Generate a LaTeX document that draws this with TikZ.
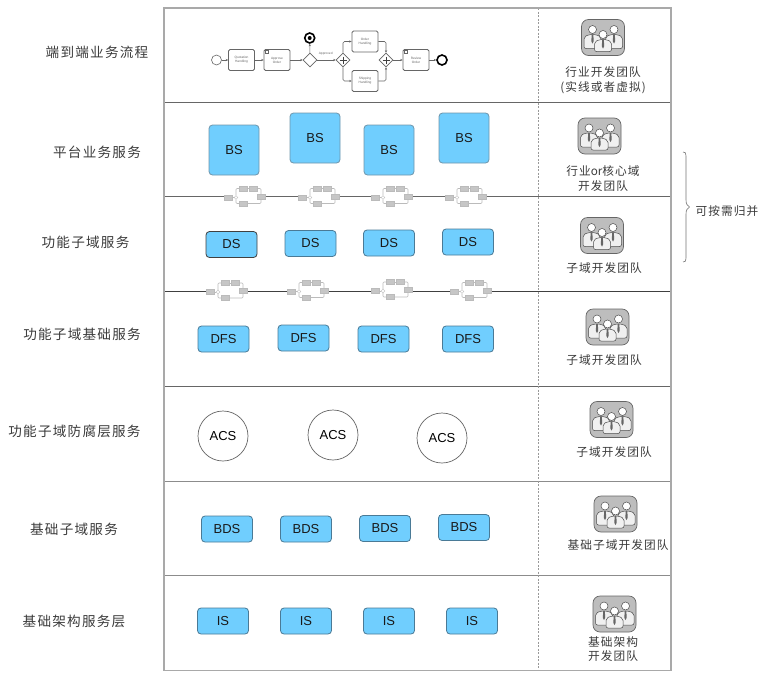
\documentclass[tikz,border=0pt]{standalone}
\usepackage{fontspec}
\setmainfont{Liberation Sans}
\newfontfamily\cjk[LetterSpace=9]{Noto Sans CJK SC}
\newfontfamily\cjkplain{Noto Sans CJK SC}
\usetikzlibrary{shapes.geometric,arrows.meta}

\definecolor{svcblue}{HTML}{70CEFE}
\definecolor{svcedge}{HTML}{4A7A96}
\definecolor{frameline}{HTML}{A9A9A9}
\definecolor{rowline}{HTML}{666666}
\definecolor{teamgrey}{HTML}{BDBDBD}
\definecolor{labelink}{HTML}{3A3A3A}
\definecolor{wirebox}{HTML}{C6C6C6}
\definecolor{wireline}{HTML}{BBBBBB}
\definecolor{flowink}{HTML}{666666}

\tikzset{
  svc/.style={draw=svcedge,fill=svcblue,rounded corners=3.5pt,line width=.8pt,
    minimum width=51pt,minimum height=26pt,inner sep=0pt,
    font=\fontsize{13}{15}\selectfont,text=black!90},
  bigsvc/.style={svc,minimum width=50pt,minimum height=50pt,draw=svcedge!80},
  acl/.style={draw=black!60,fill=white,circle,minimum size=50pt,inner sep=0pt,line width=.7pt,
    font=\fontsize{13}{15}\selectfont},
  rowlabel/.style={font=\cjk\fontsize{13.6}{15}\selectfont,text=labelink,align=center,inner sep=0pt},
  teamlabel/.style={font=\cjk\fontsize{11.7}{14.5}\selectfont,text=labelink,align=center,inner sep=0pt,yshift=-.7pt},
  task/.style={draw=flowink,fill=white,rounded corners=1.5pt,line width=.8pt,minimum width=26pt,
    minimum height=21pt,inner sep=0pt,align=center,text=black!60,font=\fontsize{3.2}{4}\selectfont},
  gate/.style={draw=flowink,fill=white,diamond,aspect=1,minimum size=14pt,inner sep=0pt,line width=.7pt},
  flow/.style={draw=flowink,line width=.6pt,rounded corners=1.5pt,-{Stealth[length=2.4pt,width=2.2pt]}},
  minibox/.style={draw=wireline,fill=wirebox,minimum width=7.5pt,minimum height=5pt,inner sep=0pt,line width=.4pt},
  minigate/.style={draw=wireline,fill=white,diamond,aspect=1,minimum size=4pt,inner sep=0pt,line width=.4pt},
  miniwire/.style={draw=wireline,line width=.6pt,rounded corners=1pt},
  wiring/.pic={
    \fill[white] (-3,-13) rectangle (21,11);
    \node[minibox]  (-in)  at (-8,0)  {};
    \node[minigate] (-g)   at (0,0)   {};
    \node[minibox]  (-t1)  at (7,-9)  {};
    \node[minibox]  (-t2)  at (17,-9) {};
    \node[minibox]  (-out) at (25,-1) {};
    \node[minibox]  (-b)   at (7,6)   {};
    \path[miniwire] (-in) -- (-g);
    \path[miniwire] (-g) |- (-t1);
    \path[miniwire] (-t1) -- (-t2);
    \path[miniwire] (-t2) -| (-out);
    \path[miniwire] (-g) |- (-b);
    \path[miniwire] (-b) -| (-out);
  },
  pics/team/.style={code={
    \node[draw=black!60,fill=teamgrey,rounded corners=7pt,minimum width=43pt,minimum height=36pt,
      inner sep=0pt,line width=.7pt] (-bg) at (0,0) {};
    \foreach \px/\py/\pb in {-10.5/-8/19,11/-8/19,0/-3/17}{
      \begin{scope}[shift={(\px,\py)},draw=black!70,line width=.5pt]
        \filldraw[fill=white!94!black,rounded corners=2pt]
          (-8.5,\pb) -- (-8.5,7.5) -- (-3.5,5) -- (3.5,5) -- (8.5,7.5) -- (8.5,\pb) -- cycle;
        \filldraw[fill=white] (0,0) circle (4);
        \fill[black!60] (-.9,5) -- (.9,5) -- (1.1,12) -- (0,14) -- (-1.1,12) -- cycle;
      \end{scope}
    }
  }},
}

\begin{document}
\begin{tikzpicture}[x=1pt,y=-1pt]
\useasboundingbox (0,0) rectangle (765,675);

% layer rows
\draw[rowline,line width=.9pt] (164,102.3) -- (671,102.3);
\draw[rowline,line width=.9pt] (164,196.8) -- (671,196.8);
\draw[black!75,line width=.9pt] (164,291.6) -- (671,291.6);
\draw[rowline,line width=.9pt] (164,386) -- (671,386);
\draw[black!45,line width=.9pt] (164,481.6) -- (671,481.6);
\draw[black!45,line width=.9pt] (164,575.8) -- (671,575.8);
\draw[black!40,line width=.7pt,dash pattern=on 2pt off 1.5pt] (538.7,8) -- (538.7,670.5);
\draw[frameline,line width=1.1pt] (164,8) rectangle (671,670.5);

% row captions
\node[rowlabel] (cap1) at (97,52)   {端到端业务流程};
\node[rowlabel] (cap2) at (97,152)  {平台业务服务};
\node[rowlabel] (cap3) at (85.5,242) {功能子域服务};
\node[rowlabel] (cap4) at (82,334)  {功能子域基础服务};
\node[rowlabel] (cap5) at (74.5,431) {功能子域防腐层服务};
\node[rowlabel] (cap6) at (74,529)  {基础子域服务};
\node[rowlabel] (cap7) at (74,621)  {基础架构服务层};

% end-to-end business process
\node[draw=flowink,fill=white,circle,minimum size=10pt,inner sep=0pt,line width=.6pt] (start) at (216.5,60) {};
\node[task] (quote)   at (241.5,60) {Quotation\\Handling};
\node[task] (approve) at (277,60)   {Approve\\Order};
\node[gate] (check)   at (310,60)   {};
\node[draw=black,fill=white,circle,minimum size=10pt,inner sep=0pt,line width=1.6pt] (stop) at (309.7,38) {};
\node[fill=black,circle,minimum size=4pt,inner sep=0pt] (stopdot) at (309.7,38) {};
\node[gate] (fork)    at (343,60)   {};
\node[task] (order)   at (365,41.5) {Order\\Handling};
\node[task] (ship)    at (365,81)   {Shipping\\Handling};
\node[gate] (join)    at (386,60)   {};
\node[task] (receive) at (416,60)   {Review\\Order};
\node[draw=black,fill=white,circle,minimum size=10pt,inner sep=0pt,line width=1.6pt] (finish) at (442,60) {};
\node[text=black!60,font=\fontsize{3.2}{4}\selectfont,inner sep=0pt] (approved) at (325.7,53.7) {Approved};
\draw[black!75,line width=1pt] (fork.center) ++(-3.5,0) -- ++(7,0) (fork.center) ++(0,-3.5) -- ++(0,7);
\draw[black!75,line width=1pt] (join.center) ++(-3.5,0) -- ++(7,0) (join.center) ++(0,-3.5) -- ++(0,7);
\draw[flowink,line width=.4pt] (approve.north west) ++(1.5,1.5) rectangle ++(3,3);
\draw[flowink,line width=.4pt] (receive.north west) ++(1.5,1.5) rectangle ++(3,3);
\path[flow] (start) -- (quote);
\path[flow] (quote) -- (approve);
\path[flow] (approve) -- (check);
\path[flow] (check) -- (stop);
\path[flow] (check) -- (fork);
\path[flow] (fork) |- (order);
\path[flow] (fork) |- (ship);
\path[flow] (order) -| (join);
\path[flow] (ship) -| (join);
\path[flow] (join) -- (receive);
\path[flow] (receive) -- (finish);

% platform business services
\node[bigsvc] (bs1) at (234,150) {BS};
\node[bigsvc] (bs2) at (315,138) {BS};
\node[bigsvc] (bs3) at (389,150) {BS};
\node[bigsvc] (bs4) at (464,138) {BS};

% wiring between service rows
\pic (wa) at (236,197.5) {wiring};
\pic (wb) at (310,197.5) {wiring};
\pic (wc) at (383,197.5) {wiring};
\pic (wd) at (457,197.5) {wiring};
\pic (we) at (218,292)   {wiring};
\pic (wf) at (299,291.5) {wiring};
\pic (wg) at (383,291)   {wiring};
\pic (wh) at (462,291.5) {wiring};

% functional subdomain services
\node[svc,draw=black!75] (ds1) at (231.5,244.5) {DS};
\node[svc] (ds2) at (310.5,243.5) {DS};
\node[svc] (ds3) at (389,243)   {DS};
\node[svc] (ds4) at (468,242)   {DS};

\node[svc] (dfs1) at (223.5,339) {DFS};
\node[svc] (dfs2) at (303.5,338) {DFS};
\node[svc] (dfs3) at (383.5,339) {DFS};
\node[svc] (dfs4) at (468,339)   {DFS};

\node[acl] (acs1) at (223,436) {ACS};
\node[acl] (acs2) at (333,435) {ACS};
\node[acl] (acs3) at (442,438) {ACS};

\node[svc] (bds1) at (227,529)   {BDS};
\node[svc] (bds2) at (306,529)   {BDS};
\node[svc] (bds3) at (385,528.5) {BDS};
\node[svc] (bds4) at (464,527.5) {BDS};

\node[svc] (is1) at (223,621) {IS};
\node[svc] (is2) at (306,621) {IS};
\node[svc] (is3) at (389,621) {IS};
\node[svc] (is4) at (472,621) {IS};

% owning teams
\pic (team1) at (603,37.5)  {team};
\pic (team2) at (599.5,136) {team};
\pic (team3) at (602,235.5) {team};
\pic (team4) at (607.5,327) {team};
\pic (team5) at (611.5,419.5) {team};
\pic (team6) at (615.5,514) {team};
\pic (team7) at (614.5,614) {team};

\node[teamlabel] (tl1) at (603,79.5) {行业开发团队\\(实线或者虚拟)};
\node[teamlabel] (tl2) at (603,178)  {行业{\cjkplain or}核心域\\开发团队};
\node[teamlabel] (tl3) at (604,267)  {子域开发团队};
\node[teamlabel] (tl4) at (604,359)  {子域开发团队};
\node[teamlabel] (tl5) at (614,451)  {子域开发团队};
\node[teamlabel] (tl6) at (618,544)  {基础子域开发团队};
\node[teamlabel] (tl7) at (613,648.5) {基础架构\\开发团队};

% merge bracket
\coordinate (brtop) at (683,152);
\coordinate (brtip) at (689.5,207);
\coordinate (brbot) at (683,262);
\draw[black!55,line width=.6pt]
  (brtop) .. controls (685.5,152) and (686,153) .. (686,156) -- (686,200)
  .. controls (686,204) and (687.5,206) .. (brtip)
  .. controls (687.5,208) and (686,210) .. (686,214) -- (686,258)
  .. controls (686,261) and (685.5,262) .. (brbot);
\node[teamlabel] (merge) at (727,210) {可按需归并};
\end{tikzpicture}
\end{document}
